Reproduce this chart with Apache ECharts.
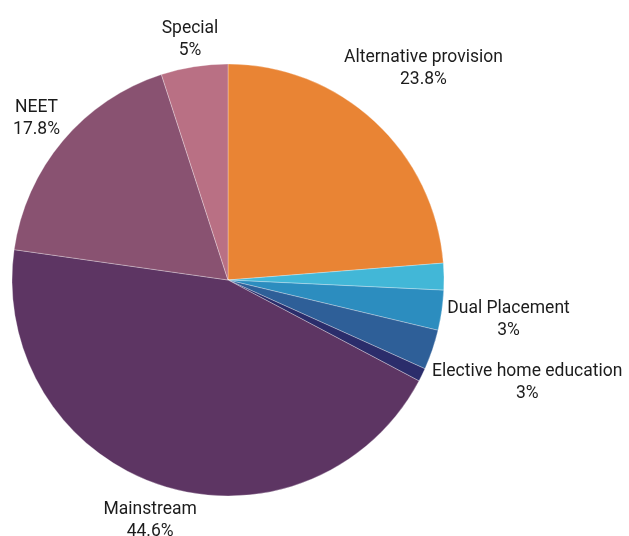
<!DOCTYPE html>
<html>
<head>
<meta charset="utf-8">
<script src="https://cdn.jsdelivr.net/npm/echarts@6/dist/echarts.min.js"></script>
<style>html,body{margin:0;padding:0;background:#fff}#c{width:629px;height:536px}</style>
</head>
<body>
<div id="c"></div>
<script>
const categories = ["Alternative provision", "Other (unlabelled)", "Dual Placement", "Elective home education", "Other (unlabelled 2)", "Mainstream", "NEET", "Special"];
const values = [23.8, 2, 3, 3, 1, 44.6, 17.8, 5];
const showLabel = [true, false, true, true, false, true, true, true];
const colors = ["#E98434", "#42B7D7", "#2C8DBF", "#2E5F98", "#2B2D6B", "#5D3563", "#895271", "#B97084"];

const CX = 228, CY = 280, R = 216, GAP = 4;
const total = values.reduce((a, b) => a + b, 0);
const midAngles = [];
let acc = 0;
values.forEach(v => { midAngles.push((acc + v / 2) / total * 2 * Math.PI); acc += v; });

const chart = echarts.init(document.getElementById('c'), null, {renderer: 'canvas'});
chart.setOption({
  animation: false,
  series: [{
    type: 'pie',
    center: [CX, CY],
    radius: R,
    startAngle: 90,
    clockwise: true,
    avoidLabelOverlap: false,
    itemStyle: {borderColor: '#ffffff', borderWidth: 0.3},
    label: {
      show: true,
      position: 'outside',
      formatter: p => p.name + '\n' + p.value + '%',
      fontFamily: 'Roboto',
      fontSize: 17.5,
      lineHeight: 22,
      color: '#1c1c1c',
      align: 'center'
    },
    labelLine: {show: false},
    labelLayout: function (params) {
      const a = midAngles[params.dataIndex];
      const w = params.labelRect.width, h = params.labelRect.height;
      const s = Math.sin(a), c = Math.cos(a);
      const proj = w / 2 * Math.abs(s) + (h / 2 - 3) * Math.abs(c);
      const d = R + GAP + proj;
      return {x: CX + d * s, y: CY - d * c, align: 'center', verticalAlign: 'middle'};
    },
    data: categories.map((n, i) => ({
      name: n, value: values[i],
      itemStyle: {color: colors[i]},
      label: {show: showLabel[i]}
    }))
  }]
});
</script>
</body>
</html>
